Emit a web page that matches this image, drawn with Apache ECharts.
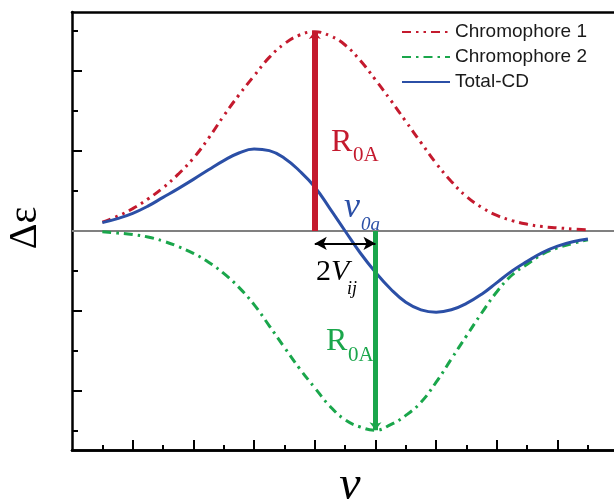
<!DOCTYPE html>
<html>
<head>
<meta charset="utf-8">
<script src="https://cdn.jsdelivr.net/npm/echarts@6/dist/echarts.min.js"></script>
<style>
    html, body { margin: 0; padding: 0; background: #fff; }
    #chart { width: 614px; height: 502px; }
</style>
</head>
<body>
<div id="chart"></div>
<script>
// frequency grid (axis units, one minor tick = 1)
const nu = [1, 1.5, 2, 2.5, 3, 3.5, 4, 4.5, 5, 5.5, 6, 6.5, 7, 7.5, 8, 8.5, 9,
    9.5, 10, 10.5, 11, 11.5, 12, 12.5, 13, 13.5, 14, 14.5, 15, 15.5, 16, 16.5, 17];
const chromophore1 = [0.22, 0.37, 0.56, 0.80, 1.08, 1.42, 1.82, 2.32, 2.88, 3.40, 3.88, 4.34, 4.68, 4.90, 4.98, 4.88, 4.65,
    4.26, 3.78, 3.27, 2.74, 2.21, 1.69, 1.24, 0.86, 0.59, 0.39, 0.26, 0.17, 0.11, 0.08, 0.05, 0.03];
const chromophore2 = [-0.02, -0.05, -0.09, -0.15, -0.25, -0.39, -0.56, -0.78, -1.06, -1.41, -1.84, -2.37, -2.91, -3.44, -3.92, -4.38, -4.72,
    -4.90, -4.98, -4.84, -4.61, -4.28, -3.78, -3.20, -2.62, -2.05, -1.52, -1.10, -0.83, -0.58, -0.42, -0.31, -0.22];
const totalCD = [0.21, 0.31, 0.44, 0.62, 0.84, 1.06, 1.29, 1.53, 1.76, 1.95, 2.05, 2.01, 1.82, 1.50, 1.10, 0.56, 0.0,
    -0.55, -1.03, -1.45, -1.78, -1.97, -2.03, -1.97, -1.81, -1.58, -1.29, -1.0, -0.76, -0.54, -0.38, -0.27, -0.20];

// rotational strengths and splitting
const band1 = [8, 5.0];
const band2 = [10, -4.98];
const splitLevel = -0.31;

const xMajorTicks = [2, 4, 6, 8, 10, 12, 14, 16];
const xMinorTicks = [1, 3, 5, 7, 9, 11, 13, 15, 17];
const yMajorTicks = [-4, -2, 0, 2, 4];
const yMinorTicks = [-5, -3, -1, 1, 3, 5];

const RED = '#c41a2e';
const GREEN = '#1aa64b';
const BLUE = '#2b4fa6';
const SERIF = '"Liberation Serif", "DejaVu Serif", serif';

const xMin = 0, xMax = 17.86;
const yMin = -5.475, yMax = 5.475;

function pairs(ys) {
    return nu.map((x, i) => [x, ys[i]]);
}

function tickAxis(extra) {
    return Object.assign({
        type: 'value',
        min: xMin,
        max: xMax,
        axisLine: { show: true, onZero: false, lineStyle: { color: '#000', width: 2.5 } },
        axisLabel: { show: false },
        splitLine: { show: false }
    }, extra);
}

const chart = echarts.init(document.getElementById('chart'));

chart.setOption({
    animation: false,
    grid: { left: 72, top: 12, right: 0, bottom: 52 },
    legend: {
        data: ['Chromophore 1', 'Chromophore 2', 'Total-CD'],
        orient: 'vertical',
        left: 401,
        top: 20,
        padding: 0,
        itemWidth: 48,
        itemHeight: 14,
        itemGap: 1,
        selectedMode: false,
        itemStyle: { color: 'transparent', borderColor: 'transparent', borderWidth: 0 },
        textStyle: { fontFamily: '"Liberation Sans", Arial, sans-serif', fontSize: 19, color: '#1a1a1a', lineHeight: 24 }
    },
    xAxis: [
        tickAxis({ position: 'bottom', axisTick: { show: true, inside: true, length: 10, customValues: xMajorTicks, lineStyle: { color: '#000', width: 2 } } }),
        tickAxis({ position: 'bottom', axisTick: { show: true, inside: true, length: 5, customValues: xMinorTicks, lineStyle: { color: '#000', width: 2 } } }),
        tickAxis({ position: 'top', axisTick: { show: false } })
    ],
    yAxis: [
        {
            type: 'value', min: yMin, max: yMax, position: 'left',
            axisLine: { show: true, onZero: false, lineStyle: { color: '#000', width: 2.5 } },
            axisTick: { show: true, inside: true, length: 10, customValues: yMajorTicks, lineStyle: { color: '#000', width: 2 } },
            axisLabel: { show: false },
            splitLine: { show: false }
        },
        {
            type: 'value', min: yMin, max: yMax, position: 'left',
            axisLine: { show: false, onZero: false },
            axisTick: { show: true, inside: true, length: 6, customValues: yMinorTicks, lineStyle: { color: '#000', width: 2 } },
            axisLabel: { show: false },
            splitLine: { show: false }
        }
    ],
    series: [
        {
            name: 'zero',
            type: 'line',
            data: [],
            silent: true,
            markLine: {
                silent: true,
                z: 1,
                symbol: ['none', 'none'],
                label: { show: false },
                lineStyle: { color: '#808080', width: 2, type: 'solid' },
                data: [{ yAxis: 0 }]
            }
        },
        {
            name: 'Chromophore 1',
            type: 'line',
            smooth: 0.45,
            symbol: 'none',
            color: RED,
            lineStyle: { color: RED, width: 3, type: [9, 5, 2.5, 5, 2.5, 5] },
            data: pairs(chromophore1)
        },
        {
            name: 'Chromophore 2',
            type: 'line',
            smooth: 0.45,
            symbol: 'none',
            color: GREEN,
            lineStyle: { color: GREEN, width: 3, type: [9, 5, 2.5, 5] },
            data: pairs(chromophore2)
        },
        {
            name: 'Total-CD',
            type: 'line',
            smooth: 0.45,
            symbol: 'none',
            color: BLUE,
            lineStyle: { color: BLUE, width: 3 },
            data: pairs(totalCD)
        },
        {
            name: 'band1',
            type: 'line',
            data: [],
            markLine: {
                silent: true,
                symbol: ['none', 'arrow'],
                symbolSize: [9, 8],
                label: { show: false },
                lineStyle: { color: RED, width: 6, type: 'solid' },
                data: [[{ coord: [band1[0], 0] }, { coord: band1 }]]
            }
        },
        {
            name: 'band2',
            type: 'line',
            data: [],
            markLine: {
                silent: true,
                symbol: ['none', 'arrow'],
                symbolSize: [9, 8],
                label: { show: false },
                lineStyle: { color: GREEN, width: 5, type: 'solid' },
                data: [[{ coord: [band2[0], 0] }, { coord: band2 }]]
            }
        },
        {
            name: 'split',
            type: 'line',
            data: [],
            markLine: {
                silent: true,
                symbol: ['arrow', 'arrow'],
                symbolSize: [10, 12],
                label: { show: false },
                lineStyle: { color: '#000', width: 2, type: 'solid' },
                data: [[{ coord: [band1[0], splitLevel] }, { coord: [band2[0], splitLevel] }]]
            }
        }
    ],
    graphic: [
        // axis titles
        { type: 'text', x: 25, y: 228, rotation: Math.PI / 2,
          style: { text: 'Δε', font: '40px ' + SERIF, fill: '#000', align: 'center', verticalAlign: 'middle' } },
        { type: 'text', x: 350, y: 486,
          style: { text: 'ν', font: 'italic 48px ' + SERIF, fill: '#000', align: 'center', verticalAlign: 'middle' } },
        // red R0A
        { type: 'text', x: 331, y: 143,
          style: { text: 'R', font: '32px ' + SERIF, fill: RED, align: 'left', verticalAlign: 'middle' } },
        { type: 'text', x: 353, y: 155,
          style: { text: '0A', font: '21px ' + SERIF, fill: RED, align: 'left', verticalAlign: 'middle' } },
        // green R0A
        { type: 'text', x: 326, y: 342,
          style: { text: 'R', font: '32px ' + SERIF, fill: GREEN, align: 'left', verticalAlign: 'middle' } },
        { type: 'text', x: 348, y: 355,
          style: { text: '0A', font: '21px ' + SERIF, fill: GREEN, align: 'left', verticalAlign: 'middle' } },
        // nu_0a
        { type: 'text', x: 344, y: 208,
          style: { text: 'ν', font: 'italic 36px ' + SERIF, fill: BLUE, align: 'left', verticalAlign: 'middle' } },
        { type: 'text', x: 361, y: 225,
          style: { text: '0a', font: 'italic 19px ' + SERIF, fill: BLUE, align: 'left', verticalAlign: 'middle' } },
        // 2V_ij
        { type: 'text', x: 316, y: 272,
          style: { text: '{a|2}{b|V}', fill: '#000', align: 'left', verticalAlign: 'middle',
                   rich: { a: { font: '30px ' + SERIF }, b: { font: 'italic 30px ' + SERIF } } } },
        { type: 'text', x: 347, y: 289,
          style: { text: 'ij', font: 'italic 18px ' + SERIF, fill: '#000', align: 'left', verticalAlign: 'middle' } }
    ]
});
</script>
</body>
</html>
